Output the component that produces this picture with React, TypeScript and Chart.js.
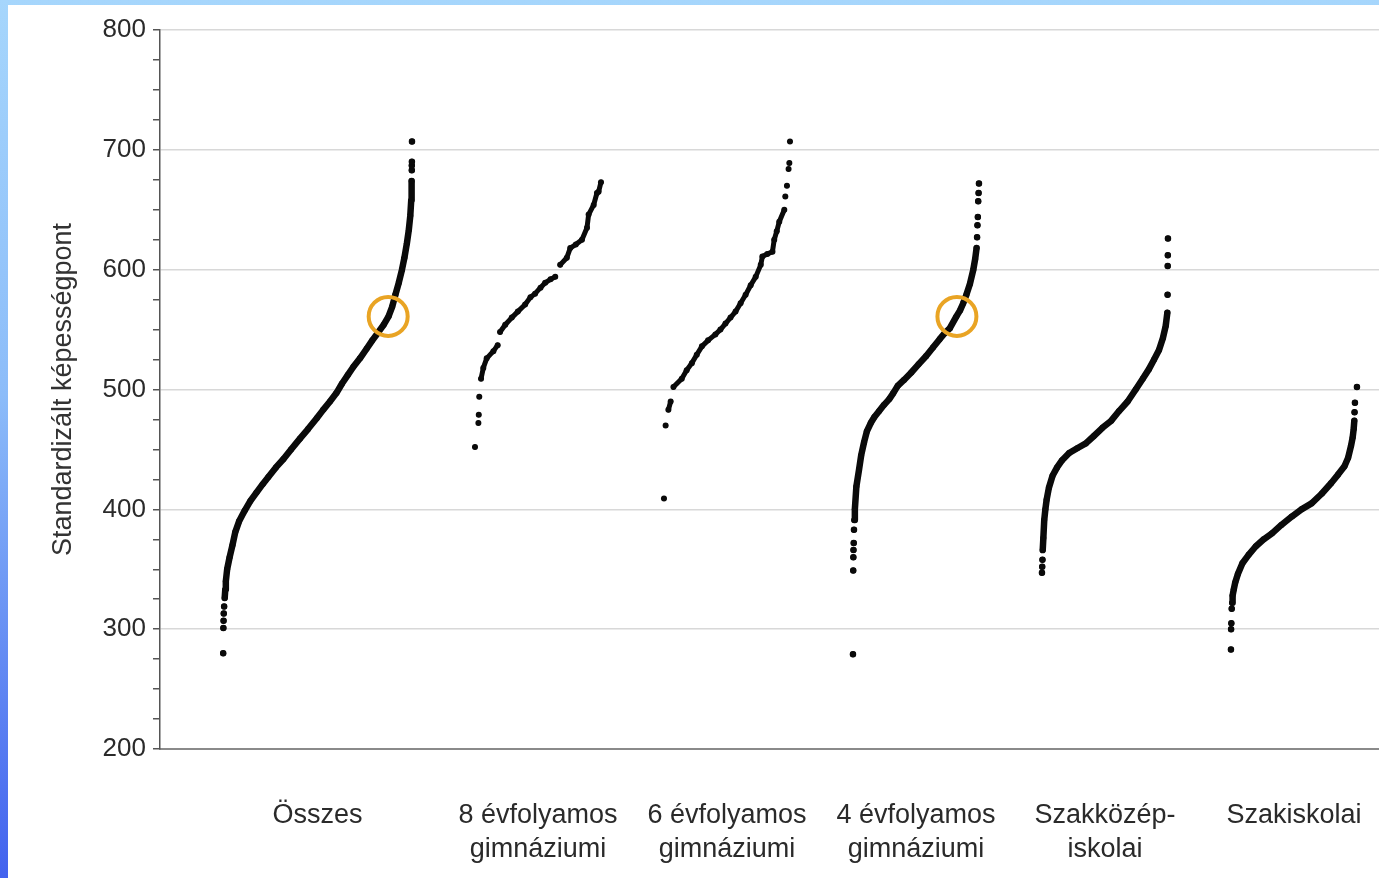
import React, { useEffect, useRef } from "react";
import { Chart, registerables } from "chart.js";

Chart.register(...registerables);

// ---------- data ----------
const categories: string[][] = [
  ["Összes"],
  ["8 évfolyamos", "gimnáziumi"],
  ["6 évfolyamos", "gimnáziumi"],
  ["4 évfolyamos", "gimnáziumi"],
  ["Szakközép-", "iskolai"],
  ["Szakiskolai"],
];

// x-domain (in category units) occupied by each group's ranked schools
const categorySpans: number[][] = [
  [0.5, 2.0],
  [2.5, 3.5],
  [4.0, 5.0],
  [5.5, 6.5],
  [7.0, 8.0],
  [8.5, 9.5],
];
const xAxisMax = 9.675;

const yMin = 200;
const yMax = 800;
const yMajorStep = 100;
const yMinorStep = 25;
const yTitle = "Standardizált képességpont";

// Each group: runs of [percentile rank, score]; single-point runs are isolated schools.
const osszesRuns: number[][][] = [
  [[0.1, 280]], [[0.2, 301]], [[0.3, 307]], [[0.4, 313]], [[0.6, 319]],
  [
    [0.9, 326], [1.2, 333], [1.5, 340], [2.2, 350], [3.5, 360], [5, 370], [6.5, 381],
    [8.5, 390], [11.5, 399], [14.5, 407], [17.7, 414], [21, 421], [24, 427], [28, 435],
    [32, 442], [36, 450], [40.7, 459], [45, 467], [49.6, 476], [53, 483], [56.6, 490],
    [60, 497], [63, 505], [66, 512], [69, 519], [72.5, 526], [76, 534], [79, 541],
    [82.3, 548], [85, 554], [87.6, 561], [89.5, 569], [91.2, 579], [93, 589], [94.7, 600],
    [96, 610], [97.3, 622], [98.3, 633], [99.1, 645], [99.6, 658], [99.8, 674],
  ],
  [[99.9, 683]], [[99.9, 687]], [[99.95, 690]], [[100, 707]],
];

const evf8Runs: number[][][] = [
  [[0, 452]], [[2.7, 472]], [[3.0, 479]], [[3.4, 494]],
  [[4.8, 509], [6.6, 518], [9.3, 526], [14.6, 532], [18, 537]],
  [[19.9, 548], [24, 554], [29.2, 560], [34, 565], [39.8, 571], [44, 577], [47.7, 580],
   [52, 585], [55.7, 589], [60, 592], [63.7, 594]],
  [[67.6, 604], [72.9, 610], [75.6, 618], [80, 621], [84.9, 625], [88.9, 635], [90.2, 646],
   [94.2, 654], [96.8, 664], [98.1, 665], [100, 673]],
];

const evf6Runs: number[][][] = [
  [[0, 409]], [[1.3, 470]],
  [[3.5, 483], [5.3, 490]],
  [[7.5, 502], [14.1, 509], [18, 516], [22.1, 522], [26, 529], [30.1, 536], [35, 541],
   [40.8, 546], [44.8, 550], [48.8, 555], [52.8, 560], [56.8, 565], [60.8, 572], [64.8, 579],
   [68.8, 587], [72.8, 594], [76.8, 604], [78.1, 611], [82, 613], [86.1, 615], [87.5, 625],
   [89.5, 632], [91.5, 640], [95.5, 650]],
  [[96.3, 661]], [[97.6, 670]], [[98.9, 684]], [[99.5, 689]], [[100, 707]],
];

const evf4Runs: number[][][] = [
  [[0, 279]], [[0.2, 349]], [[0.3, 360]], [[0.4, 366]], [[0.6, 372]], [[0.8, 383]],
  [
    [1.1, 391], [1.5, 400], [2.7, 419], [4.8, 433], [6.5, 445], [8.8, 456], [11, 465],
    [14.1, 472], [17, 477], [20.8, 482], [24.5, 487], [28.8, 492], [32, 497], [35.5, 503],
    [40.5, 508], [46.1, 514], [52, 521], [58.1, 528], [63.5, 535], [68.8, 542], [72.8, 547],
    [76.8, 551], [82.1, 561], [85, 566], [87.5, 572], [90, 579], [92.8, 588], [95.5, 600],
    [97, 609], [98.1, 618],
  ],
  [[98.5, 627]], [[98.8, 637]], [[99.1, 644]], [[99.4, 657]], [[99.7, 664]], [[100, 672]],
];

const szakkozepRuns: number[][][] = [
  [[0, 347]], [[0.2, 352]], [[0.4, 358]],
  [
    [0.6, 366], [1.1, 376], [1.8, 391], [2.7, 400], [3.7, 408], [5.5, 418], [8.4, 428],
    [12, 435], [16, 441], [21.6, 447], [28, 451], [34.8, 455], [41, 461], [48, 468],
    [55, 474], [61.2, 482], [68, 490], [74.4, 500], [80, 509], [84.9, 517], [89, 525],
    [92.9, 533], [96, 543], [98.2, 553], [99.5, 564],
  ],
  [[99.7, 579]], [[99.8, 603]], [[99.9, 612]], [[100, 626]],
];

const szakiskolaiRuns: number[][][] = [
  [[0, 283]], [[0.1, 300]], [[0.3, 305]], [[0.6, 317]],
  [
    [1.0, 322], [1.3, 328], [2.2, 333], [3.4, 339], [5.5, 346], [9.1, 355], [14, 362],
    [19.6, 369], [26, 375], [32.6, 380], [40, 387], [48.3, 394], [56, 400], [64, 405],
    [72, 413], [79.6, 422], [85, 429], [90.1, 436], [93, 443], [95.3, 453], [96.6, 460],
    [97.4, 467], [97.9, 474],
  ],
  [[98.1, 481]], [[98.4, 489]], [[100, 502]],
];

const groupRuns: number[][][][] = [
  osszesRuns, evf8Runs, evf6Runs, evf4Runs, szakkozepRuns, szakiskolaiRuns,
];

// highlighted schools (orange rings): group index, percentile, score
const highlightGroup = [0, 3];
const highlightPct = [87.4, 82.5];
const highlightScore = [561, 561];

// ---------- component ----------
const FONT = "'Liberation Sans', Arial, sans-serif";

function toX(group: number, pct: number): number {
  const [a, b] = categorySpans[group];
  return a + (pct / 100) * (b - a);
}

export default function App() {
  const canvasRef = useRef<HTMLCanvasElement | null>(null);

  useEffect(() => {
    const canvas = canvasRef.current;
    if (!canvas) return;

    const groupDatasets = groupRuns.map((runs, g) => {
      const data: { x: number; y: number | null }[] = [];
      runs.forEach((run, ri) => {
        if (ri > 0) {
          const last = data[data.length - 1];
          data.push({ x: last.x, y: null });
        }
        run.forEach(([p, s]) => data.push({ x: toX(g, p), y: s }));
      });
      return {
        type: "scatter" as const,
        label: categories[g].join(" "),
        data,
        showLine: true,
        spanGaps: false,
        borderColor: "#0a0a0a",
        borderWidth: g === 1 || g === 2 ? 5 : 6.5,
        borderCapStyle: "round" as const,
        borderJoinStyle: "round" as const,
        pointRadius: 3,
        pointBackgroundColor: "#0a0a0a",
        pointBorderWidth: 0,
        tension: 0,
        order: 2,
      };
    });

    const highlightDataset = {
      type: "scatter" as const,
      label: "highlight",
      data: highlightGroup.map((g, i) => ({ x: toX(g, highlightPct[i]), y: highlightScore[i] })),
      showLine: false,
      pointRadius: 19.5,
      pointBackgroundColor: "rgba(0,0,0,0)",
      pointBorderColor: "#e9a424",
      pointBorderWidth: 4,
      order: 0,
    };

    const tickCenters = categorySpans.map(([a, b]) => (a + b) / 2);

    const chart = new Chart(canvas, {
      type: "scatter",
      data: { datasets: [highlightDataset as any, ...(groupDatasets as any[])] },
      options: {
        animation: false,
        responsive: false,
        devicePixelRatio: 1,
        layout: { autoPadding: false, padding: { top: 25, left: 0, right: 0, bottom: 0 } },
        plugins: { legend: { display: false }, tooltip: { enabled: false } },
        scales: {
          x: {
            type: "linear",
            min: 0,
            max: xAxisMax,
            afterBuildTicks: (s: any) => {
              s.ticks = tickCenters.map((v) => ({ value: v }));
            },
            afterFit: (s: any) => {
              s.height = 129;
              s.paddingLeft = 0;
              s.paddingRight = 0;
            },
            ticks: {
              autoSkip: false,
              maxRotation: 0,
              minRotation: 0,
              padding: 49,
              color: "#2a2a2a",
              font: { family: FONT, size: 27, lineHeight: 1.27 },
              callback: (_v: any, i: number) => categories[i],
            },
            grid: { display: true, color: "rgba(0,0,0,0)", drawTicks: false },
            border: { display: true, color: "#8a8a8a", width: 2 },
          },
          y: {
            type: "linear",
            min: yMin,
            max: yMax,
            afterFit: (s: any) => {
              s.width = 152;
            },
            ticks: {
              stepSize: yMinorStep,
              autoSkip: false,
              padding: 7,
              color: "#2a2a2a",
              font: { family: FONT, size: 26 },
              callback: (v: any) => (Number(v) % yMajorStep === 0 ? String(v) : ""),
            },
            grid: {
              color: (c: any) =>
                c.tick && c.tick.value % yMajorStep === 0 ? "#d8d8d8" : "rgba(0,0,0,0)",
              tickColor: "#555555",
              tickLength: 7,
              lineWidth: 1.5,
            },
            border: { display: true, color: "#555555", width: 1.5 },
            title: {
              display: true,
              text: yTitle,
              color: "#333333",
              font: { family: FONT, size: 27 },
              padding: { top: 39, bottom: 0 },
            },
          },
        },
      },
    } as any);

    return () => chart.destroy();
  }, []);

  return (
    <div
      style={{
        position: "fixed",
        left: 0,
        top: 0,
        width: 1379,
        height: 878,
        background: "linear-gradient(180deg, #a6d6fc 0%, #8cbcf9 45%, #4262ee 100%)",
        overflow: "hidden",
      }}
    >
      <div
        style={{
          position: "absolute",
          left: 8,
          top: 5,
          right: 0,
          bottom: 0,
          background: "#ffffff",
        }}
      >
        <canvas ref={canvasRef} width={1371} height={873} style={{ display: "block" }} />
      </div>
    </div>
  );
}
